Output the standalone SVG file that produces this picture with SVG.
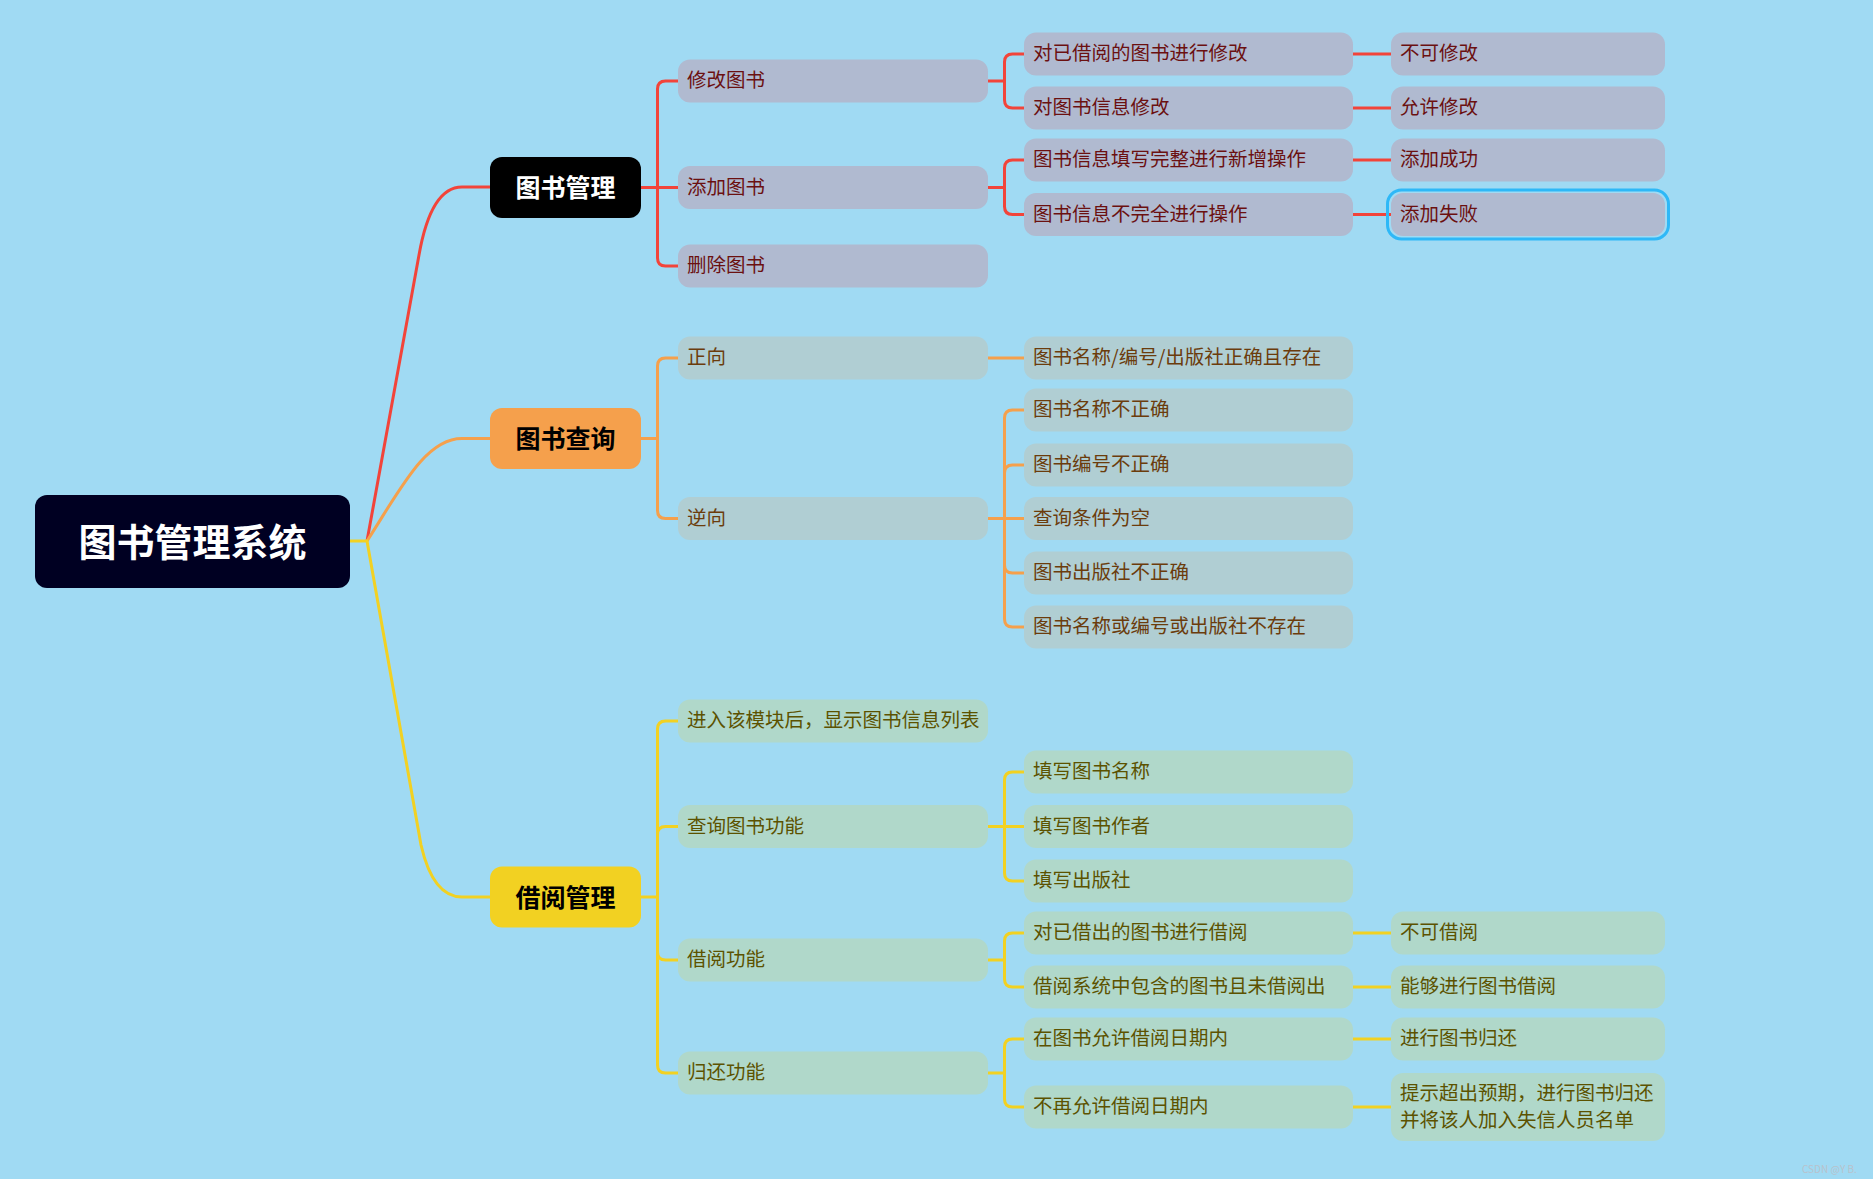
<svg xmlns="http://www.w3.org/2000/svg" width="1873" height="1179" viewBox="0 0 1873 1179">
<style>
text{font-family:"Noto Sans CJK SC","Noto Sans",sans-serif;dominant-baseline:central}
.t0{font-size:38px;font-weight:bold;fill:#ffffff;text-anchor:middle}
.t1{font-size:25px;font-weight:bold;text-anchor:middle}
.tx{font-size:19.5px}
.rb{fill:#B0BAD0}.ob{fill:#B0CED3}.yb{fill:#B0D8CA}
.rt{fill:#6B1010}.ot{fill:#6B3C0C}.yt{fill:#5C5200}
.c{fill:none;stroke-width:3;stroke-linecap:butt}
.cr{stroke:#F2443A}.co{stroke:#F5A04C}.cy{stroke:#F2D122}
</style>
<rect width="1873" height="1179" fill="#A0DAF3"/>
<g id="connectors">
<path class="c cr" d="M367,541 L419,255 Q431,187 462,187 L490,187"/>
<path class="c co" d="M367,541 C400,490 425,438.5 462,438.5 L490,438.5"/>
<path class="c cy" d="M350,541 L367,541 L421,845 Q433,897 462,897 L490,897"/>
<path class="c cr" d="M641,187.5 H678 M678,81 H665.5 Q657.5,81 657.5,89 V258 Q657.5,266 665.5,266 H678"/>
<path class="c co" d="M641,438.5 H657.5 M678,358 H665.5 Q657.5,358 657.5,366 V510.5 Q657.5,518.5 665.5,518.5 H678"/>
<path class="c cy" d="M641,897 H657.5 M678,721 H665.5 Q657.5,721 657.5,729 V1065 Q657.5,1073 665.5,1073 H678 M657.5,834.5 Q657.5,826.5 665.5,826.5 H678 M657.5,952 Q657.5,960 665.5,960 H678"/>
<path class="c cr" d="M988,81 H1004.5 M1024,54 H1012.5 Q1004.5,54 1004.5,62 V100 Q1004.5,108 1012.5,108 H1024"/>
<path class="c cr" d="M988,187.5 H1004.5 M1024,160 H1012.5 Q1004.5,160 1004.5,168 V206.5 Q1004.5,214.5 1012.5,214.5 H1024"/>
<path class="c co" d="M988,358 H1024"/>
<path class="c co" d="M988,518.5 H1024 M1024,410 H1012.5 Q1004.5,410 1004.5,418 V619 Q1004.5,627 1012.5,627 H1024 M1004.5,473 Q1004.5,465 1012.5,465 H1024 M1004.5,565 Q1004.5,573 1012.5,573 H1024"/>
<path class="c cy" d="M988,826.5 H1024 M1024,772 H1012.5 Q1004.5,772 1004.5,780 V873 Q1004.5,881 1012.5,881 H1024"/>
<path class="c cy" d="M988,960 H1004.5 M1024,933 H1012.5 Q1004.5,933 1004.5,941 V979 Q1004.5,987 1012.5,987 H1024"/>
<path class="c cy" d="M988,1073 H1004.5 M1024,1039 H1012.5 Q1004.5,1039 1004.5,1047 V1099 Q1004.5,1107 1012.5,1107 H1024"/>
<path class="c cr" d="M1353,54 H1391 M1353,108 H1391 M1353,160 H1391 M1353,214.5 H1391"/>
<path class="c cy" d="M1353,933 H1391 M1353,987 H1391 M1353,1039 H1391 M1353,1107 H1391"/>
</g>
<g id="root"><rect x="35" y="495" width="315" height="93" rx="12" fill="#000022"/><text class="t0" x="192.5" y="539">图书管理系统</text></g>
<g id="n-tsgl"><rect x="490" y="157" width="151" height="61" rx="12" fill="#000000"/><text class="t1" x="565.5" y="186" fill="#ffffff">图书管理</text></g>
<g id="n-tscx"><rect x="490" y="408" width="151" height="61" rx="12" fill="#F5A04C"/><text class="t1" x="565.5" y="437" fill="#000000">图书查询</text></g>
<g id="n-jygl"><rect x="490" y="866.5" width="151" height="61" rx="12" fill="#F2D122"/><text class="t1" x="565.5" y="895.5" fill="#000000">借阅管理</text></g>
<g id="n-xgts"><rect class="rb" x="678" y="59.5" width="310" height="43" rx="12"/><text class="tx rt" x="687" y="78.5">修改图书</text></g>
<g id="n-tjts"><rect class="rb" x="678" y="166" width="310" height="43" rx="12"/><text class="tx rt" x="687" y="185">添加图书</text></g>
<g id="n-scts"><rect class="rb" x="678" y="244.5" width="310" height="43" rx="12"/><text class="tx rt" x="687" y="263.5">删除图书</text></g>
<g id="n-zx"><rect class="ob" x="678" y="336.5" width="310" height="43" rx="12"/><text class="tx ot" x="687" y="355.5">正向</text></g>
<g id="n-nx"><rect class="ob" x="678" y="497" width="310" height="43" rx="12"/><text class="tx ot" x="687" y="516">逆向</text></g>
<g id="n-jr"><rect class="yb" x="678" y="699.5" width="310" height="43" rx="12"/><text class="tx yt" x="687" y="718.5">进入该模块后，显示图书信息列表</text></g>
<g id="n-cxgn"><rect class="yb" x="678" y="805" width="310" height="43" rx="12"/><text class="tx yt" x="687" y="824">查询图书功能</text></g>
<g id="n-jygn"><rect class="yb" x="678" y="938.5" width="310" height="43" rx="12"/><text class="tx yt" x="687" y="957.5">借阅功能</text></g>
<g id="n-hhgn"><rect class="yb" x="678" y="1051.5" width="310" height="43" rx="12"/><text class="tx yt" x="687" y="1070.5">归还功能</text></g>
<g id="n-r31"><rect class="rb" x="1024" y="32.5" width="329" height="43" rx="12"/><text class="tx rt" x="1033" y="51.5">对已借阅的图书进行修改</text></g>
<g id="n-r32"><rect class="rb" x="1024" y="86.5" width="329" height="43" rx="12"/><text class="tx rt" x="1033" y="105.5">对图书信息修改</text></g>
<g id="n-r33"><rect class="rb" x="1024" y="138.5" width="329" height="43" rx="12"/><text class="tx rt" x="1033" y="157.5">图书信息填写完整进行新增操作</text></g>
<g id="n-r34"><rect class="rb" x="1024" y="193" width="329" height="43" rx="12"/><text class="tx rt" x="1033" y="212">图书信息不完全进行操作</text></g>
<g id="n-o31"><rect class="ob" x="1024" y="336.5" width="329" height="43" rx="12"/><text class="tx ot" x="1033" y="355.5">图书名称/编号/出版社正确且存在</text></g>
<g id="n-o32"><rect class="ob" x="1024" y="388.5" width="329" height="43" rx="12"/><text class="tx ot" x="1033" y="407.5">图书名称不正确</text></g>
<g id="n-o33"><rect class="ob" x="1024" y="443.5" width="329" height="43" rx="12"/><text class="tx ot" x="1033" y="462.5">图书编号不正确</text></g>
<g id="n-o34"><rect class="ob" x="1024" y="497" width="329" height="43" rx="12"/><text class="tx ot" x="1033" y="516">查询条件为空</text></g>
<g id="n-o35"><rect class="ob" x="1024" y="551.5" width="329" height="43" rx="12"/><text class="tx ot" x="1033" y="570.5">图书出版社不正确</text></g>
<g id="n-o36"><rect class="ob" x="1024" y="605.5" width="329" height="43" rx="12"/><text class="tx ot" x="1033" y="624.5">图书名称或编号或出版社不存在</text></g>
<g id="n-y31"><rect class="yb" x="1024" y="750.5" width="329" height="43" rx="12"/><text class="tx yt" x="1033" y="769.5">填写图书名称</text></g>
<g id="n-y32"><rect class="yb" x="1024" y="805" width="329" height="43" rx="12"/><text class="tx yt" x="1033" y="824">填写图书作者</text></g>
<g id="n-y33"><rect class="yb" x="1024" y="859.5" width="329" height="43" rx="12"/><text class="tx yt" x="1033" y="878.5">填写出版社</text></g>
<g id="n-y34"><rect class="yb" x="1024" y="911.5" width="329" height="43" rx="12"/><text class="tx yt" x="1033" y="930.5">对已借出的图书进行借阅</text></g>
<g id="n-y35"><rect class="yb" x="1024" y="965.5" width="329" height="43" rx="12"/><text class="tx yt" x="1033" y="984.5">借阅系统中包含的图书且未借阅出</text></g>
<g id="n-y36"><rect class="yb" x="1024" y="1017.5" width="329" height="43" rx="12"/><text class="tx yt" x="1033" y="1036.5">在图书允许借阅日期内</text></g>
<g id="n-y37"><rect class="yb" x="1024" y="1085.5" width="329" height="43" rx="12"/><text class="tx yt" x="1033" y="1104.5">不再允许借阅日期内</text></g>
<g id="n-r41"><rect class="rb" x="1391" y="32.5" width="274" height="43" rx="12"/><text class="tx rt" x="1400" y="51.5">不可修改</text></g>
<g id="n-r42"><rect class="rb" x="1391" y="86.5" width="274" height="43" rx="12"/><text class="tx rt" x="1400" y="105.5">允许修改</text></g>
<g id="n-r43"><rect class="rb" x="1391" y="138.5" width="274" height="43" rx="12"/><text class="tx rt" x="1400" y="157.5">添加成功</text></g>
<g id="n-r44"><rect class="rb" x="1391" y="193" width="274" height="43" rx="12"/><rect x="1387.5" y="190" width="281" height="49" rx="14" fill="none" stroke="#2EB8F7" stroke-width="3"/><text class="tx rt" x="1400" y="212">添加失败</text></g>
<g id="n-y41"><rect class="yb" x="1391" y="911.5" width="274" height="43" rx="12"/><text class="tx yt" x="1400" y="930.5">不可借阅</text></g>
<g id="n-y42"><rect class="yb" x="1391" y="965.5" width="274" height="43" rx="12"/><text class="tx yt" x="1400" y="984.5">能够进行图书借阅</text></g>
<g id="n-y43"><rect class="yb" x="1391" y="1017.5" width="274" height="43" rx="12"/><text class="tx yt" x="1400" y="1036.5">进行图书归还</text></g>
<g id="n-y44"><rect class="yb" x="1391" y="1073" width="274" height="68" rx="12"/><text class="tx yt" x="1400" y="1091">提示超出预期，进行图书归还</text><text class="tx yt" x="1400" y="1118">并将该人加入失信人员名单</text></g>
<text x="1802" y="1168" font-family="Liberation Sans, sans-serif" font-size="10" fill="#B8C2CC">CSDN @Y B.</text>
</svg>
